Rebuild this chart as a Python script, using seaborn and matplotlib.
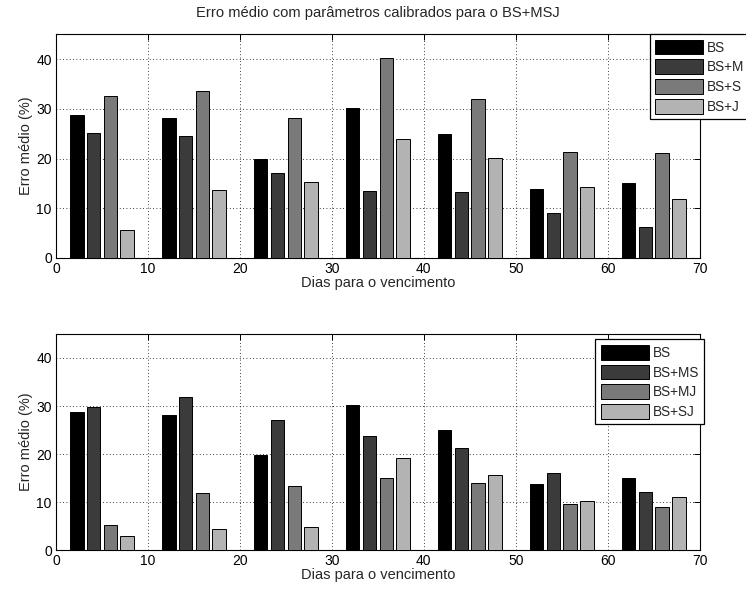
import numpy as np
import pandas as pd
import matplotlib
matplotlib.use("Agg")
import matplotlib.pyplot as plt
import seaborn as sns

# Days to maturity (group centres)
dias = [5, 15, 25, 35, 45, 55, 65]

# Mean error (%) with parameters calibrated for BS+MSJ
bs = [28.8, 28.2, 19.9, 30.2, 25.0, 13.8, 15.0]
bs_m = [25.2, 24.5, 17.0, 13.4, 13.2, 9.0, 6.3]
bs_s = [32.5, 33.5, 28.1, 40.2, 32.0, 21.4, 21.1]
bs_j = [5.7, 13.6, 15.2, 23.9, 20.2, 14.2, 11.9]

bs_ms = [29.7, 31.8, 27.0, 23.8, 21.2, 16.0, 12.2]
bs_mj = [5.2, 11.8, 13.3, 15.1, 13.9, 9.7, 8.9]
bs_sj = [2.9, 4.3, 4.9, 19.1, 15.7, 10.3, 11.1]

top_series = {"BS": bs, "BS+M": bs_m, "BS+S": bs_s, "BS+J": bs_j}
bottom_series = {"BS": bs, "BS+MS": bs_ms, "BS+MJ": bs_mj, "BS+SJ": bs_sj}

palette = ["#000000", "#3b3b3b", "#7a7a7a", "#b3b3b3"]

sns.set_style("white")
plt.rcParams["font.family"] = ["Liberation Sans", "DejaVu Sans"]
plt.rcParams["font.size"] = 10


def long_frame(series):
    rows = []
    for name, vals in series.items():
        for d, v in zip(dias, vals):
            rows.append({"dias": d, "erro": v, "modelo": name})
    return pd.DataFrame(rows)


fig = plt.figure(figsize=(7.46, 5.89), dpi=100)
ax1 = fig.add_axes([0.075, 0.562, 0.863, 0.380])
ax2 = fig.add_axes([0.075, 0.066, 0.863, 0.367])


def draw(ax, series, legend_anchor):
    df = long_frame(series)
    sns.barplot(data=df, x="dias", y="erro", hue="modelo",
                hue_order=list(series.keys()), palette=palette,
                native_scale=True, width=0.727, gap=0.2,
                edgecolor="black", linewidth=0.7, errorbar=None,
                ax=ax, zorder=3)
    ax.set_xlim(0, 70)
    ax.set_ylim(0, 45)
    ax.set_xticks(range(0, 71, 10))
    ax.set_yticks(range(0, 41, 10))
    ax.tick_params(direction="in", top=True, right=True, length=4,
                   width=0.7, labelsize=10, colors="black", pad=3)
    ax.grid(True, linestyle=(0, (1, 3)), color="black", linewidth=0.6)
    ax.set_axisbelow(True)
    for s in ax.spines.values():
        s.set_color("black")
        s.set_linewidth(0.8)
    ax.set_xlabel("Dias para o vencimento", fontsize=10.5, labelpad=0)
    ax.set_ylabel("Erro médio (%)", fontsize=10.5, labelpad=2)
    handles, labels = ax.get_legend_handles_labels()
    leg = ax.legend(handles, labels, loc="upper left",
                    bbox_to_anchor=legend_anchor, frameon=True,
                    fancybox=False, framealpha=1, edgecolor="black",
                    handlelength=3.5, handleheight=1.3, handletextpad=0.3,
                    labelspacing=0.35, borderpad=0.4, fontsize=9.8,
                    borderaxespad=0)
    leg.get_frame().set_linewidth(0.9)
    return leg


draw(ax1, top_series, (0.922, 1.0))
draw(ax2, bottom_series, (0.838, 0.975))

ax1.set_title("Erro médio com parâmetros calibrados para o BS+MSJ",
              fontsize=10.6, pad=12)

fig.savefig("out.png", dpi=100)
